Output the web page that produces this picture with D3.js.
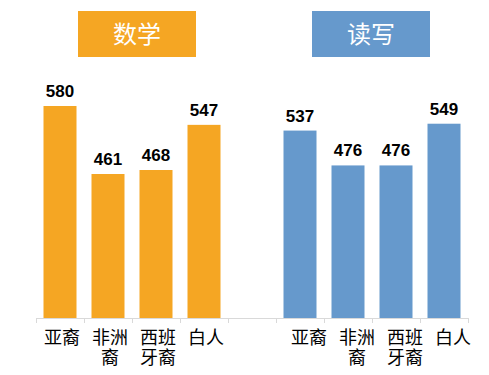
<!DOCTYPE html>
<html>
<head>
<meta charset="utf-8">
<script src="https://cdn.jsdelivr.net/npm/d3@7"></script>
<style>
  body { margin: 0; background: #fff; }
  svg { display: block; }
</style>
</head>
<body>
<script>
// 两组成绩柱状图：数学 / 读写
const groups = ['数学', '读写']
const races = ['亚裔', '非洲裔', '西班牙裔', '白人']
const raceLines = [['亚裔'], ['非洲', '裔'], ['西班', '牙裔'], ['白人']]
const mathScores = [580, 461, 468, 547]
const readScores = [537, 476, 476, 549]

const width = 489
const height = 375
const colors = ['#F5A623', '#6699CC']

// 9个位置：4个数学 + 1个空位 + 4个读写
const slots = []
races.forEach((r, i) => slots.push({ key: 'm' + i, group: 0, idx: i, value: mathScores[i] }))
slots.push({ key: 'gap', group: -1 })
races.forEach((r, i) => slots.push({ key: 'r' + i, group: 1, idx: i, value: readScores[i] }))

const x = d3.scaleBand()
  .domain(slots.map(d => d.key))
  .range([36, 468])
  .paddingInner(0)
  .paddingOuter(0)

// y轴不是从0开始
const y = d3.scaleLinear()
  .domain([209, 580])
  .range([318, 106])

const svg = d3.select('body').append('svg')
  .attr('width', width)
  .attr('height', height)

// 标题框
const titleBox = [{ x: 78, w: 118 }, { x: 312, w: 118 }]
groups.forEach((g, i) => {
  svg.append('rect')
    .attr('x', titleBox[i].x)
    .attr('y', 11)
    .attr('width', titleBox[i].w)
    .attr('height', 46)
    .attr('fill', colors[i])
  svg.append('text')
    .attr('x', titleBox[i].x + titleBox[i].w / 2)
    .attr('y', 43)
    .attr('text-anchor', 'middle')
    .attr('font-family', '"Noto Sans CJK SC", sans-serif')
    .attr('font-size', 24)
    .attr('fill', '#fff')
    .text(g)
})

const barData = slots.filter(d => d.group >= 0)
const barW = 33

svg.selectAll('rect.bar')
  .data(barData)
  .enter()
  .append('rect')
  .attr('class', 'bar')
  .attr('x', d => x(d.key) + (x.bandwidth() - barW) / 2)
  .attr('y', d => y(d.value))
  .attr('width', barW)
  .attr('height', d => y.range()[0] - y(d.value))
  .attr('fill', d => colors[d.group])

// 数值标签
svg.selectAll('text.val')
  .data(barData)
  .enter()
  .append('text')
  .attr('class', 'val')
  .attr('x', d => x(d.key) + x.bandwidth() / 2)
  .attr('y', d => y(d.value) - 9)
  .attr('text-anchor', 'middle')
  .attr('font-family', 'Liberation Sans, Arial, sans-serif')
  .attr('font-weight', 'bold')
  .attr('font-size', 17)
  .attr('fill', '#000')
  .text(d => d.value)

// x轴
const axisY = 318
const axis = svg.append('g').attr('stroke', '#D9D9D9').attr('stroke-width', 1)
axis.append('line')
  .attr('x1', 36).attr('x2', 468)
  .attr('y1', axisY + 0.5).attr('y2', axisY + 0.5)
axis.selectAll('line.tick')
  .data(slots.map(d => x(d.key)).concat([x.range()[1]]))
  .enter()
  .append('line')
  .attr('class', 'tick')
  .attr('x1', d => Math.round(d) + 0.5).attr('x2', d => Math.round(d) + 0.5)
  .attr('y1', axisY).attr('y2', axisY + 5)

// 类别标签（换行，每行单独一个text）
const labelShift = [2, 9]
const lines = []
barData.forEach(d => raceLines[d.idx].forEach((t, k) => lines.push({ t, k, d })))
svg.selectAll('text.cat')
  .data(lines)
  .enter()
  .append('text')
  .attr('class', 'cat')
  .attr('x', p => x(p.d.key) + x.bandwidth() / 2 + labelShift[p.d.group])
  .attr('y', p => 344 + p.k * 20)
  .attr('text-anchor', 'middle')
  .attr('font-family', '"Noto Sans CJK SC", sans-serif')
  .attr('font-size', 18)
  .attr('fill', '#000')
  .text(p => p.t)
</script>
</body>
</html>
